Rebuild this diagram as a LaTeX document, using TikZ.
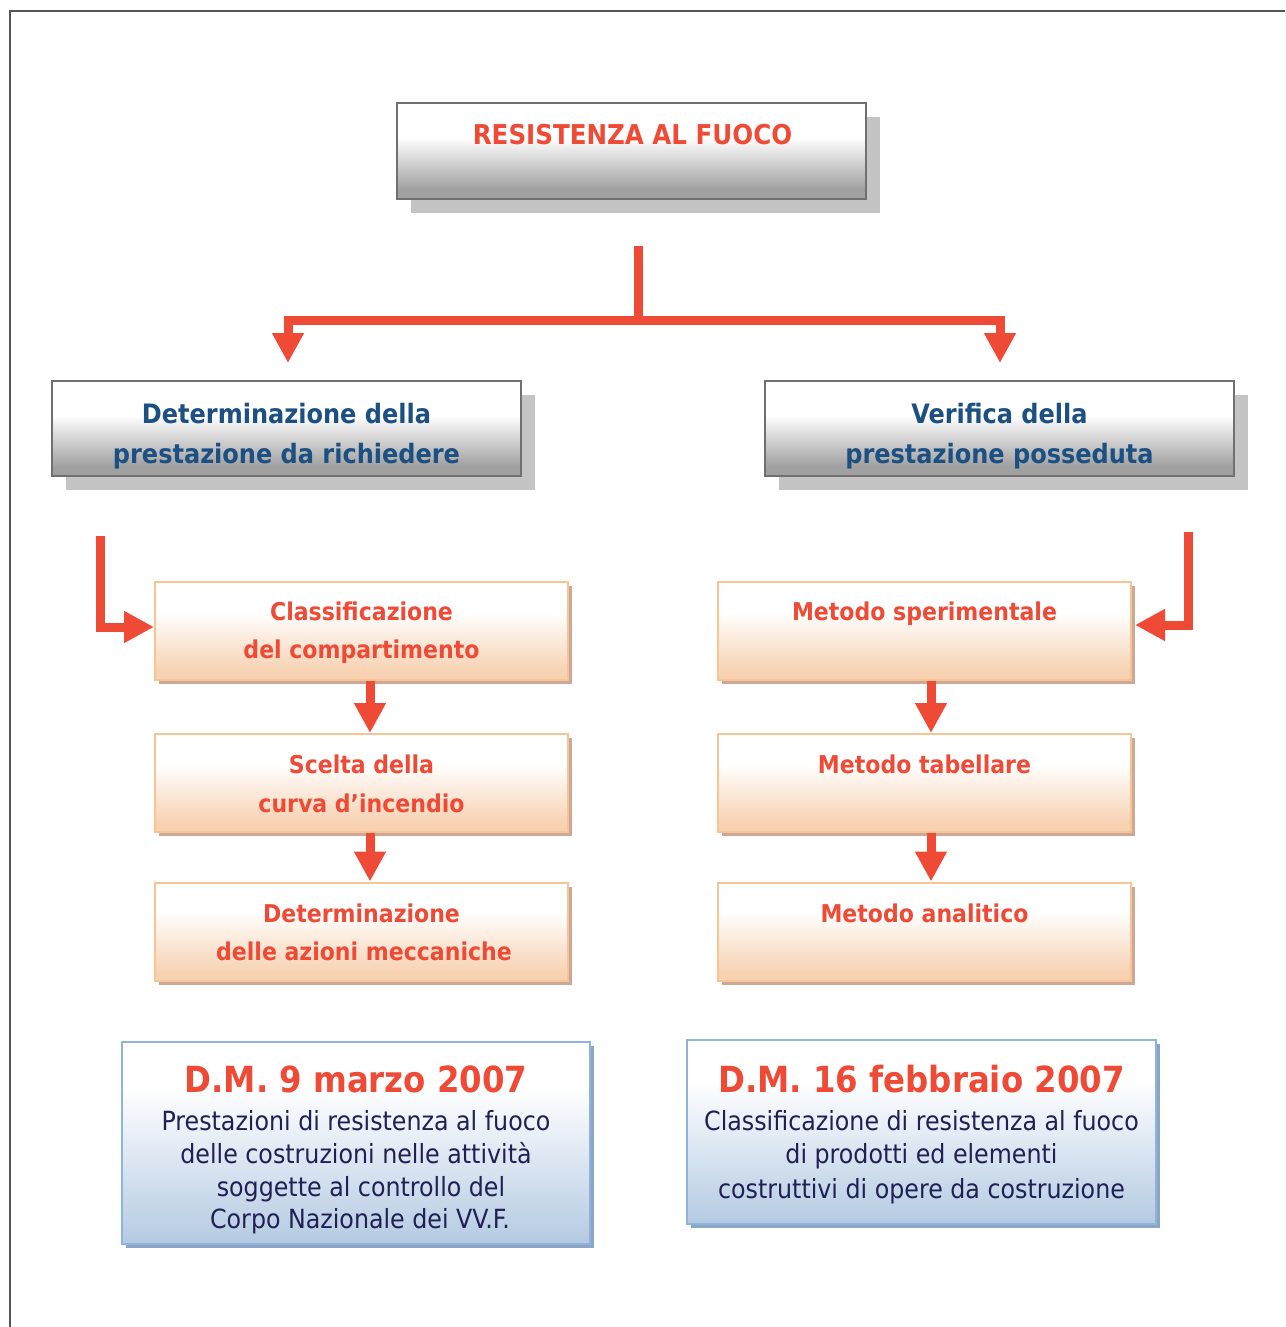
\documentclass[tikz,border=0pt]{standalone}
\usepackage{fontspec}
\setmainfont{DejaVu Sans Condensed}
\usetikzlibrary{arrows.meta,calc,shadows}
\definecolor{fred}{RGB}{239,74,54}
\definecolor{tblue}{RGB}{28,80,130}
\definecolor{tnavy}{RGB}{32,32,84}
\definecolor{gborder}{RGB}{112,112,112}
\definecolor{gshadow}{RGB}{196,196,196}
\definecolor{gbottom}{RGB}{160,160,160}
\definecolor{oborder}{RGB}{249,196,148}
\definecolor{obottom}{RGB}{247,211,180}
\definecolor{oshadow}{RGB}{205,168,150}
\definecolor{bborder}{RGB}{142,180,222}
\definecolor{bbottom}{RGB}{180,202,226}
\definecolor{bshadow}{RGB}{140,165,196}
\definecolor{framec}{RGB}{85,85,85}
\pgfdeclareverticalshading{grayshade}{100bp}{color(0bp)=(gbottom); color(30bp)=(gbottom); color(57bp)=(white); color(100bp)=(white)}
\pgfdeclareverticalshading{orshade}{100bp}{color(0bp)=(obottom); color(30bp)=(obottom); color(60bp)=(white); color(100bp)=(white)}
\pgfdeclareverticalshading{blshade}{100bp}{color(0bp)=(bbottom); color(25bp)=(bbottom); color(64bp)=(white); color(100bp)=(white)}
\tikzset{
  graybox/.style={draw=gborder, line width=2pt, shading=grayshade, minimum width=469pt, minimum height=95pt, inner sep=0pt,
    drop shadow={shadow xshift=14pt, shadow yshift=-14pt, fill=gshadow, opacity=1}},
  orbox/.style={draw=oborder, line width=2pt, shading=orshade, minimum width=413pt, minimum height=98pt, inner sep=0pt,
    drop shadow={shadow xshift=4pt, shadow yshift=-4pt, fill=oshadow, opacity=1}},
  bluebox/.style={draw=bborder, line width=2pt, shading=blshade, minimum width=468pt, inner sep=0pt,
    drop shadow={shadow xshift=4pt, shadow yshift=-4pt, fill=bshadow, opacity=1}},
  redarrow/.style={draw=fred, line width=9pt, -{Triangle[width=30pt,length=30pt]}},
  toptext/.style={anchor=base, inner sep=0pt, text=fred, font=\fontsize{27.3}{32}\selectfont\bfseries},
  graytext/.style={anchor=base, inner sep=0pt, text=tblue, font=\fontsize{26.7}{32}\selectfont\bfseries},
  ortext/.style={anchor=base, inner sep=0pt, text=fred, font=\fontsize{24.5}{29}\selectfont\bfseries},
  dmtitle/.style={anchor=base, inner sep=0pt, text=fred, font=\fontsize{36}{42}\selectfont\bfseries},
  dmbody/.style={anchor=base, inner sep=0pt, text=tnavy, font=\fontsize{26.4}{31}\selectfont},
}
\begin{document}
\begin{tikzpicture}[x=1pt,y=-1pt]
\useasboundingbox (0,0) rectangle (1285,1327);
\fill[white] (0,0) rectangle (1285,1327);
\draw[framec, line width=2pt] (10,1327) -- (10,11) -- (1285,11);

% top box
\node[graybox, minimum height=96pt] (top) at (631.5,151) {};
\node[toptext] (ttop) at (632.5,145) {RESISTENZA AL FUOCO};

% second row
\node[graybox] (L1) at (286.5,428.5) {};
\node[graytext] (tL1a) at (286.5,423) {Determinazione della};
\node[graytext] (tL1b) at (286.5,463) {prestazione da richiedere};
\node[graybox] (R1) at (999.5,428.5) {};
\node[graytext] (tR1a) at (999.5,423) {Verifica della};
\node[graytext] (tR1b) at (999.5,463) {prestazione posseduta};

% orange boxes left
\node[orbox] (C1) at (361.5,631) {};
\node[ortext] (tC1a) at (361.5,620) {Classificazione};
\node[ortext] (tC1b) at (361.5,658.5) {del compartimento};
\node[orbox] (C2) at (361.5,783) {};
\node[ortext] (tC2a) at (361.5,773) {Scelta della};
\node[ortext] (tC2b) at (361.5,812) {curva d’incendio};
\node[orbox] (C3) at (361.5,931.5) {};
\node[ortext] (tC3a) at (361.5,922) {Determinazione};
\node[ortext] (tC3b) at (364,960) {delle azioni meccaniche};

% orange boxes right
\node[orbox] (M1) at (924.5,631) {};
\node[ortext] (tM1) at (924.5,620) {Metodo sperimentale};
\node[orbox] (M2) at (924.5,783) {};
\node[ortext] (tM2) at (924.5,773) {Metodo tabellare};
\node[orbox] (M3) at (924.5,931.5) {};
\node[ortext] (tM3) at (924.5,922) {Metodo analitico};

% blue boxes
\node[bluebox, minimum height=202pt] (DL) at (356,1143) {};
\node[dmtitle] (tDL) at (356,1092) {D.M. 9 marzo 2007};
\node[dmbody] (tDL1) at (356,1130) {Prestazioni di resistenza al fuoco};
\node[dmbody] (tDL2) at (356,1163) {delle costruzioni nelle attività};
\node[dmbody] (tDL3) at (361,1196) {soggette al controllo del};
\node[dmbody] (tDL4) at (360,1228) {Corpo Nazionale dei VV.F.};
\node[bluebox, minimum width=469pt, minimum height=184pt] (DR) at (921.5,1132) {};
\node[dmtitle] (tDR) at (921.5,1092) {D.M. 16 febbraio 2007};
\node[dmbody] (tDR1) at (921.5,1130) {Classificazione di resistenza al fuoco};
\node[dmbody] (tDR2) at (921.5,1163) {di prodotti ed elementi};
\node[dmbody] (tDR3) at (921.5,1198) {costruttivi di opere da costruzione};

% connectors
\coordinate (s0) at (638,246);
\coordinate (jrow) at (0,320);
\draw[redarrow, shorten >=17pt] (s0) -- (s0 |- jrow) -| ([xshift=1.5pt]L1.north);
\draw[redarrow, shorten >=17pt] (s0) -- (s0 |- jrow) -| ([xshift=0.5pt]R1.north);

\coordinate (e0) at (100,536);
\draw[redarrow] (e0) |- ([yshift=4pt]C1.west);
\coordinate (e1) at (1188,532);
\draw[redarrow] (e1) |- ([xshift=3pt,yshift=6pt]M1.east);

\draw[redarrow] ([xshift=8.5pt]C1.south) -- ([xshift=8.5pt]C2.north);
\draw[redarrow] ([xshift=8.5pt]C2.south) -- ([xshift=8.5pt]C3.north);
\draw[redarrow] ([xshift=6.5pt]M1.south) -- ([xshift=6.5pt]M2.north);
\draw[redarrow] ([xshift=6.5pt]M2.south) -- ([xshift=6.5pt]M3.north);
\end{tikzpicture}
\end{document}
